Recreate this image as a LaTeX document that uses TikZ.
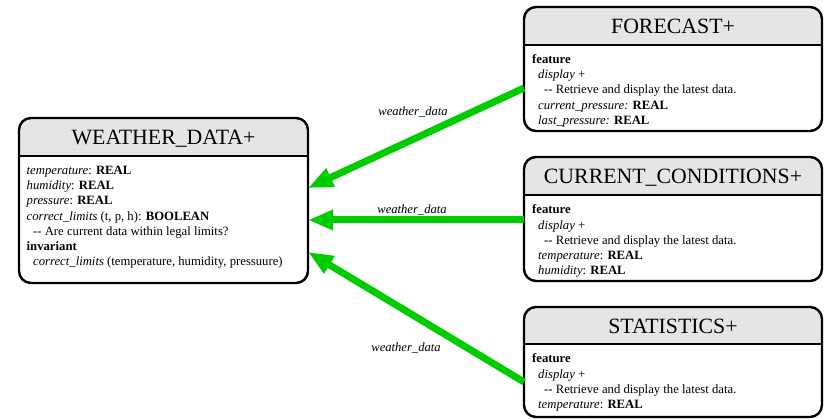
\documentclass[tikz,border=0pt]{standalone}
\usepackage{fontspec}
\setmainfont{Liberation Serif}
\usetikzlibrary{arrows.meta,calc}
\definecolor{hdrgray}{HTML}{E5E5E5}
\definecolor{linkgreen}{HTML}{00CC00}
% name, x1, y1, x2, y2, ysep, title
\newcommand\classbox[7]{%
  \node[frame, minimum width={#4-#2}, minimum height={#5-#3}] (#1) at ({(#2+#4)/2},{(#3+#5)/2}) {};
  \begin{scope}
    \clip[rounded corners=12pt] (#2,#3) rectangle (#4,#5);
    \fill[hdrgray] (#2,#3) rectangle (#4,#6);
  \end{scope}
  \draw[line width=2.2pt] (#2,#6) -- (#4,#6);
  \draw[boxline] (#1.north west) rectangle (#1.south east);
  \node[title, anchor=base] (#1-t) at ({(#2+#4)/2},{(#3+#6)/2+7.9}) {#7};
}
\newcommand\dd{-\kern0pt-}
\begin{document}
\begin{tikzpicture}[x=1pt,y=-1pt,
  frame/.style={rectangle, inner sep=0pt, outer sep=0pt},
  boxline/.style={draw=black, line width=2.4pt, rounded corners=12pt},
  title/.style={font=\fontsize{21.8}{24}\selectfont, inner sep=0pt},
  body/.style={font=\fontsize{12.7}{15.2}\selectfont, anchor=base west, inner sep=0pt},
  link/.style={draw=linkgreen, line width=7pt, -{Triangle[length=25pt,width=19pt]}},
  lbl/.style={font=\fontsize{12.6}{15}\selectfont\itshape, inner sep=0pt, anchor=base}]

\useasboundingbox (0,0) rectangle (825,419);

\classbox{wd}{19}{118}{308}{283}{156}{WEATHER\_DATA+}
\classbox{fc}{524}{7}{822}{131}{45}{FORECAST+}
\classbox{cc}{524}{157}{822}{281}{195}{CURRENT\_CONDITIONS+}
\classbox{st}{524}{307}{822}{417}{344}{STATISTICS+}

\node[body] (wdb) at (26.5,174.5) {\parbox[t]{280pt}{\raggedright
\textit{temperature}: \textbf{REAL}\\
\textit{humidity}: \textbf{REAL}\\
\textit{pressure}: \textbf{REAL}\\
\textit{correct\_limits} (t, p, h): \textbf{BOOLEAN}\\
\hspace*{6.5pt}\dd{} Are current data within legal limits?\\
\textbf{invariant}\\
\hspace*{6.5pt}\textit{correct\_limits} (temperature, humidity, pressuure)}};

\node[body] (fcb) at (532,63.5) {\parbox[t]{280pt}{\raggedright
\textbf{feature}\\
\hspace*{6pt}\textit{display} +\\
\hspace*{12pt}\dd{} Retrieve and display the latest data.\\
\hspace*{6pt}\textit{current\_pressure:} \textbf{REAL}\\
\hspace*{6pt}\textit{last\_pressure:} \textbf{REAL}}};

\node[body] (ccb) at (532,214) {\parbox[t]{280pt}{\raggedright
\textbf{feature}\\
\hspace*{6pt}\textit{display} +\\
\hspace*{12pt}\dd{} Retrieve and display the latest data.\\
\hspace*{6pt}\textit{temperature}: \textbf{REAL}\\
\hspace*{6pt}\textit{humidity}: \textbf{REAL}}};

\node[body] (stb) at (532,363) {\parbox[t]{280pt}{\raggedright
\textbf{feature}\\
\hspace*{6pt}\textit{display} +\\
\hspace*{12pt}\dd{} Retrieve and display the latest data.\\
\hspace*{6pt}\textit{temperature}: \textbf{REAL}}};

\draw[link] ($(fc.west)+(0,19)$) -- ($(wd.east)+(0,-12.5)$);
\draw[link] ($(cc.west)+(0,1)$) -- ($(wd.east)+(0,19.5)$);
\draw[link] ($(st.west)+(0,20)$) -- ($(wd.east)+(0,51.5)$);

\node[lbl] (l1) at (413,116) {weather\_data};
\node[lbl] (l2) at (412,213.5) {weather\_data};
\node[lbl] (l3) at (406,351.5) {weather\_data};
\end{tikzpicture}
\end{document}
